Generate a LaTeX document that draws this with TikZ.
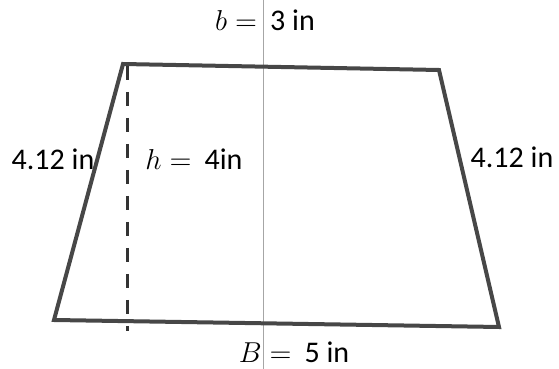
\documentclass[tikz,border=0pt]{standalone}
\usepackage{fontspec}
\setmainfont{Carlito}
\usepackage{tikz}
\usetikzlibrary{calc,positioning}

\begin{document}
\begin{tikzpicture}[x=0.5pt,y=-0.5pt,
    side/.style={line width=2pt,draw=black!72,line join=miter},
    heightline/.style={line width=1.5pt,black!80,dash pattern=on 7pt off 6pt},
    axisline/.style={line width=0.4pt,black!35},
    lbl/.style={font=\fontsize{15}{17}\selectfont,inner sep=0pt}]
  \useasboundingbox (0,0) rectangle (559,369);
  \coordinate (tl) at (123,64);
  \coordinate (tr) at (439,70);
  \coordinate (br) at (499,327);
  \coordinate (bl) at (54,320);
  \coordinate (htop) at (128,66);
  \coordinate (hbot) at (128,331);
  \coordinate (atop) at (263,0);
  \coordinate (abot) at (263,369);
  \draw[axisline] (atop) -- (abot);
  \draw[side] (tl) -- (tr) -- (br) -- (bl) -- cycle;
  \draw[heightline] (htop) -- (hbot);
  \node[lbl] (topb) at (265,20) {$b={}$\,3 in};
  \node[lbl] (ht) at (194,159) {$h={}$\,4in};
  \node[lbl] (lside) at (53,159) {4.12 in};
  \node[lbl] (rside) at (512,157) {4.12 in};
  \node[lbl] (botb) at (294,352) {$B={}$\,5 in};
\end{tikzpicture}
\end{document}
